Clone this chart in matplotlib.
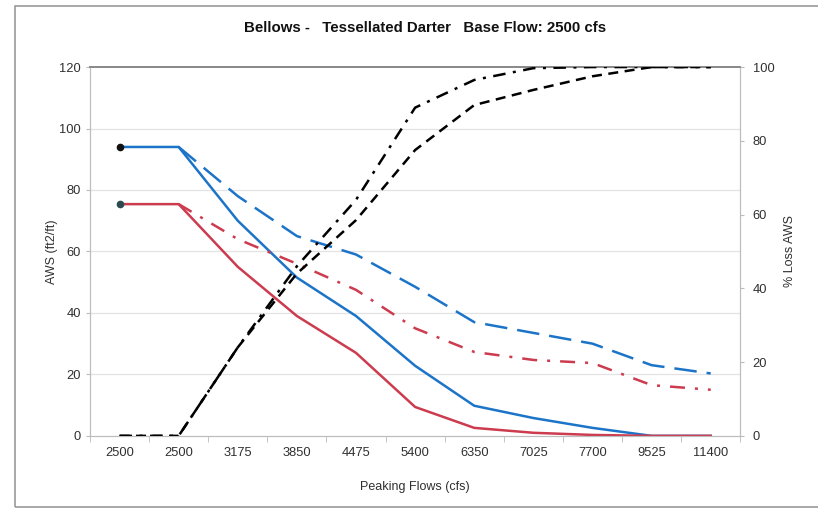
import matplotlib.pyplot as plt
import numpy as np
from matplotlib.patches import Rectangle

plt.rcParams['font.family'] = ['Liberation Sans', 'DejaVu Sans']

# Data
flows = ["2500", "2500", "3175", "3850", "4475", "5400", "6350", "7025", "7700", "9525", "11400"]
aws_blue = [94, 94, 70, 51.5, 39, 22.8, 9.8, 5.8, 2.6, 0, 0]
aws_red = [75.4, 75.4, 55, 39, 27, 9.4, 2.6, 1, 0.3, 0, 0]
aws_blue_alt = [None, 94, 78, 65, 59, 48.5, 37, 33.5, 30, 23, 20.3]
aws_red_alt = [None, 75.4, 64, 56, 47.5, 35, 27.3, 24.7, 23.7, 16.5, 15]
loss_dashed = [0, 0, 24, 44, 58.5, 77.5, 89.7, 93.8, 97.5, 100, 100]
loss_dashdot = [0, 0, 24, 46, 64, 89, 96.5, 99.7, 100, 100, 100]

x = np.arange(len(flows))

fig = plt.figure(figsize=(8.18, 5.08), dpi=100)
ax = fig.add_axes([0.110, 0.142, 0.795, 0.726])
ax2 = ax.twinx()

blue = "#1C74C8"
red = "#CC3B4E"

def masked(vals):
    return np.array([np.nan if v is None else v for v in vals], dtype=float)

# gridlines
for gy in range(20, 120, 20):
    ax.axhline(gy, color="#e3e3e3", lw=0.9, zorder=0)

ax.plot(x, aws_blue, color=blue, lw=1.8, zorder=3)
ax.plot(x, aws_red, color=red, lw=1.8, zorder=3)
ax.plot(x[:1], aws_blue[:1], 'o', color="#111111", ms=4.5, zorder=4)
ax.plot(x[:1], aws_red[:1], 'o', color="#2a4a50", ms=4.5, zorder=4)
ax.plot(x, masked(aws_blue_alt), color=blue, lw=1.8, dashes=(9, 4), zorder=3)
ax.plot(x, masked(aws_red_alt), color=red, lw=1.8, dashes=(6, 4, 1.2, 4), zorder=3)

ax2.plot(x, loss_dashed, color="black", lw=1.8, dashes=(4, 2.6), zorder=3)
ax2.plot(x, loss_dashdot, color="black", lw=1.8, dashes=(5, 3, 1.2, 3), zorder=3)

ax.set_xlim(-0.5, len(flows) - 0.5)
ax.set_ylim(0, 120)
ax2.set_ylim(0, 100)
ax.set_yticks(range(0, 121, 20))
ax2.set_yticks(range(0, 101, 20))
ax.set_xticks(x)
ax.set_xticklabels(flows)
ax.set_xticks(np.arange(-0.5, len(flows), 1), minor=True)

tick_col = "#303030"
for a in (ax, ax2):
    a.tick_params(axis='both', which='major', labelsize=9.3, colors="#bbbbbb", labelcolor=tick_col, length=3)
    for side in ('left', 'right', 'bottom'):
        a.spines[side].set_color("#bdbdbd")
    a.spines['top'].set_color("#888888")
    a.spines['top'].set_linewidth(1.2)
ax.tick_params(axis='x', which='major', length=0, pad=8)
ax.tick_params(axis='x', which='minor', length=4, colors="#bbbbbb")
ax2.tick_params(axis='y', pad=6)

ax.set_ylabel("AWS (ft2/ft)", fontsize=9, color=tick_col, labelpad=1)
ax2.set_ylabel("% Loss AWS", fontsize=9, color=tick_col, labelpad=7)
ax.set_xlabel("Peaking Flows (cfs)", fontsize=9, color=tick_col, labelpad=16)

fig.text(0.52, 0.945, "Bellows -   Tessellated Darter   Base Flow: 2500 cfs",
         ha='center', va='center', fontsize=10.8, fontweight='bold', color="#111111")

fig.patches.append(Rectangle((0.018, 0.002), 0.99, 0.986, transform=fig.transFigure,
                             fill=False, edgecolor="#9a9a9a", lw=1.2))

plt.savefig("out.png", dpi=100)
plt.close(fig)
